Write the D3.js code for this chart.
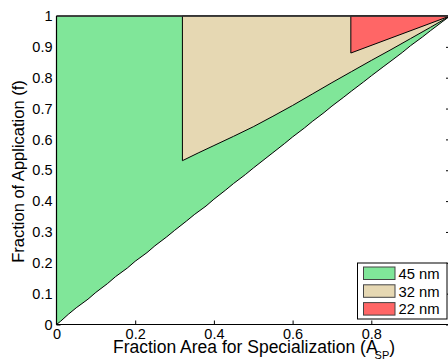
<!DOCTYPE html>
<html>
<head>
<meta charset="utf-8">
<script src="https://cdn.jsdelivr.net/npm/d3@7"></script>
<style>
  body { margin: 0; background: #fff; }
  svg { display: block; font-family: "Liberation Sans", Arial, sans-serif; }
</style>
</head>
<body>
<div id="chart"></div>
<script>
var width = 448;
var height = 360;

// lower boundary of the 45 nm region
var greenX = [0, 0.01, 0.03, 0.05, 0.08, 0.1, 0.13, 0.15, 0.18, 0.2, 0.23, 0.25, 0.28, 0.3, 0.33, 0.35, 0.38, 0.4, 0.43, 0.45, 0.48, 0.5, 0.53, 0.55, 0.58, 0.6, 0.63, 0.65, 0.68, 0.7, 0.73, 0.75, 0.78, 0.8, 0.83, 0.85, 0.88, 0.9, 0.93, 0.95, 0.98, 1];
var greenY = [0, 0.01, 0.033, 0.054, 0.082, 0.104, 0.133, 0.155, 0.183, 0.205, 0.233, 0.255, 0.284, 0.305, 0.335, 0.356, 0.384, 0.406, 0.436, 0.457, 0.486, 0.507, 0.537, 0.557, 0.587, 0.608, 0.637, 0.658, 0.687, 0.708, 0.737, 0.757, 0.786, 0.806, 0.835, 0.854, 0.883, 0.904, 0.932, 0.952, 0.981, 1];

// lower boundary of the 32 nm region
var tanX = [0.32, 0.36, 0.4, 0.45, 0.5, 0.55, 0.6, 0.65, 0.7, 0.75, 0.8, 0.85, 0.9, 0.95, 1];
var tanY = [0.531, 0.556, 0.58, 0.61, 0.641, 0.675, 0.71, 0.747, 0.784, 0.82, 0.856, 0.891, 0.927, 0.963, 1];

// lower boundary of the 22 nm region
var redX = [0.748, 1];
var redY = [0.88, 1];

var legendNames = ['45 nm', '32 nm', '22 nm'];
var fills = ['#80e699', '#e6d8b3', '#ff6666'];

var xTicks = [0, 0.2, 0.4, 0.6, 0.8, 1];
var xTickLabels = ['0', '0.2', '0.4', '0.6', '0.8', ''];
var yTicks = [0, 0.1, 0.2, 0.3, 0.4, 0.5, 0.6, 0.7, 0.8, 0.9, 1];
var yTickLabels = ['0', '0.1', '0.2', '0.3', '0.4', '0.5', '0.6', '0.7', '0.8', '0.9', '1'];

var x = d3.scaleLinear().domain([0, 1]).range([56.5, 450]);
var y = d3.scaleLinear().domain([0, 1]).range([324.5, 16]);

var svg = d3.select('#chart').append('svg')
  .attr('width', width)
  .attr('height', height);

// axes first, regions get drawn over the inner ticks
var xAxis = d3.axisBottom(x).tickValues(xTicks).tickSizeInner(-4).tickSizeOuter(0).tickPadding(0)
  .tickFormat(function(d, i) { return xTickLabels[i]; });
var yAxis = d3.axisLeft(y).tickValues(yTicks).tickSizeInner(-4).tickSizeOuter(0).tickPadding(4)
  .tickFormat(function(d, i) { return yTickLabels[i]; });
var yAxisR = d3.axisRight(y).tickValues(yTicks).tickSizeInner(-4).tickSizeOuter(0)
  .tickFormat('');

var gx = svg.append('g').attr('transform', 'translate(0,' + y(0) + ')').call(xAxis);
var gy = svg.append('g').attr('transform', 'translate(' + x(0) + ',0)').call(yAxis);
var gr = svg.append('g').attr('transform', 'translate(' + x(1) + ',0)').call(yAxisR);
[gx, gy, gr].forEach(function(g) {
  g.select('.domain').remove();
  g.selectAll('text').attr('font-size', 14.5).attr('fill', '#000')
    .style('font-family', '"Liberation Sans", Arial, sans-serif');
  g.selectAll('line').attr('stroke', '#000');
});
gx.selectAll('text').attr('dy', null).attr('y', 14.5);

var line = function(xs, ys) {
  return xs.map(function(d, i) { return [x(d), y(ys[i])]; });
};

// 45 nm
var greenPts = line(greenX, greenY).concat([[x(0), y(1)]]);
// 32 nm
var tanPts = [[x(tanX[0]), y(1)]].concat(line(tanX, tanY));
// 22 nm
var redPts = [[x(redX[0]), y(1)]].concat(line(redX, redY));

var regions = [greenPts, tanPts, redPts];
svg.selectAll('.region')
  .data(regions)
  .enter()
  .append('path')
  .attr('class', 'region')
  .attr('d', function(d) { return 'M' + d.join('L') + 'Z'; })
  .attr('fill', function(d, i) { return fills[i]; })
  .attr('stroke', '#000')
  .attr('stroke-width', 1)
  .attr('stroke-linejoin', 'round');

// box lines
svg.append('line').attr('x1', x(0)).attr('x2', x(1)).attr('y1', y(1)).attr('y2', y(1))
  .attr('stroke', '#333').attr('stroke-width', 1.5);
svg.append('line').attr('x1', x(0)).attr('x2', x(0)).attr('y1', y(0)).attr('y2', y(1))
  .attr('stroke', '#000').attr('stroke-width', 1.2);
svg.append('line').attr('x1', x(0)).attr('x2', x(1)).attr('y1', y(0)).attr('y2', y(0))
  .attr('stroke', '#000').attr('stroke-width', 1.2);

// axis titles
svg.append('text')
  .attr('x', 113).attr('y', 352.5)
  .attr('font-size', 17.5)
  .text('Fraction Area for Specialization (A')
  .append('tspan').attr('font-size', 11).attr('dx', -3).attr('dy', 6).text('SP')
  .select(function() { return this.parentNode; })
  .append('tspan').attr('dy', -6).text(')');

svg.append('text')
  .attr('transform', 'translate(24,171.5) rotate(-90)')
  .attr('text-anchor', 'middle')
  .attr('font-size', 16.5)
  .text('Fraction of Application (f)');

// legend
var legend = svg.append('g').attr('transform', 'translate(357.5,263)');
legend.append('rect').attr('width', 89.5).attr('height', 56)
  .attr('fill', '#fff').attr('stroke', '#000').attr('stroke-width', 1);
var items = legend.selectAll('.item')
  .data(legendNames)
  .enter()
  .append('g')
  .attr('transform', function(d, i) { return 'translate(6,' + (4 + i * 17.8) + ')'; });
items.append('rect')
  .attr('width', 31.5).attr('height', 12.5)
  .attr('fill', function(d, i) { return fills[i]; })
  .attr('stroke', '#444').attr('stroke-width', 1);
items.append('text')
  .attr('x', 35).attr('y', 11.8)
  .attr('font-size', 14.8)
  .text(function(d) { return d; });
</script>
</body>
</html>
